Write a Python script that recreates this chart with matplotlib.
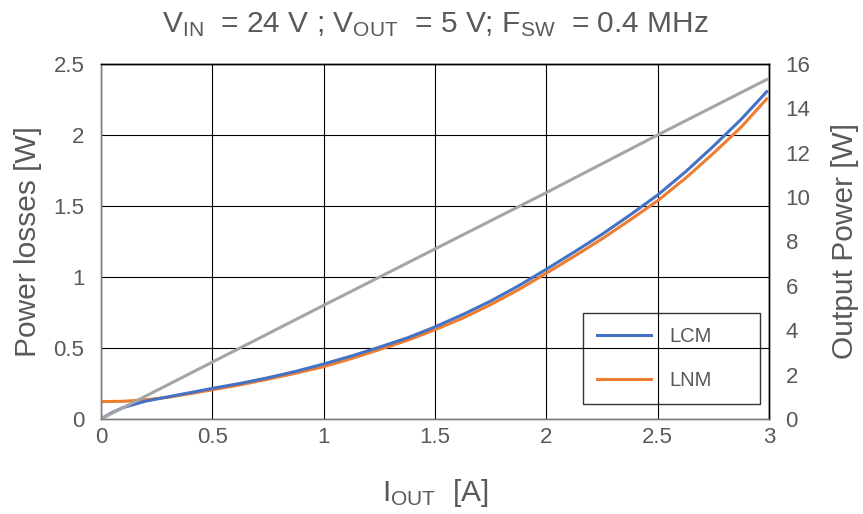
import matplotlib
matplotlib.use("Agg")
import matplotlib.pyplot as plt

plt.rcParams['font.family'] = ['Liberation Sans', 'DejaVu Sans']
plt.rcParams['mathtext.fontset'] = 'custom'
plt.rcParams['mathtext.rm'] = 'Liberation Sans'
plt.rcParams['mathtext.it'] = 'Liberation Sans'
plt.rcParams['mathtext.default'] = 'regular'

# output current [A]
i_out = [0, 0.05, 0.1, 0.2, 0.3, 0.4, 0.5, 0.625, 0.75, 0.875, 1.0, 1.125, 1.25, 1.375,
         1.5, 1.625, 1.75, 1.875, 2.0, 2.125, 2.25, 2.375, 2.5, 2.625, 2.75, 2.875, 2.99]
# power losses [W]
loss_lcm = [0.0, 0.045, 0.08, 0.125, 0.155, 0.185, 0.215, 0.25, 0.29, 0.335, 0.387, 0.443,
            0.505, 0.57, 0.648, 0.735, 0.83, 0.937, 1.054, 1.175, 1.30, 1.435, 1.577,
            1.74, 1.92, 2.11, 2.305]
loss_lnm = [0.122, 0.123, 0.124, 0.135, 0.152, 0.178, 0.205, 0.24, 0.28, 0.322, 0.368, 0.425,
            0.488, 0.553, 0.628, 0.71, 0.805, 0.91, 1.026, 1.145, 1.268, 1.40, 1.537,
            1.695, 1.87, 2.055, 2.254]
# output power [W]
p_out_i = [0, 0.5, 1.0, 1.5, 2.0, 2.5, 2.99]
p_out = [0, 2.56, 5.12, 7.66, 10.2, 12.8, 15.3]

txt = '#595959'

fig = plt.figure(figsize=(8.63, 5.14), dpi=100)
ax1 = fig.add_axes([0.117, 0.185, 0.774, 0.6905])
ax2 = ax1.twinx()

ax1.plot(i_out, loss_lnm, color='#ED7D31', lw=2.2, label='LNM', zorder=3)
ax1.plot(i_out, loss_lcm, color='#4472C4', lw=2.2, label='LCM', zorder=4)
ax2.plot(p_out_i, p_out, color='#A5A5A5', lw=2.2)

ax1.set_xlim(0, 3)
ax1.set_ylim(0, 2.5)
ax2.set_ylim(0, 16)
ax1.set_xticks([0, 0.5, 1, 1.5, 2, 2.5, 3])
ax1.set_xticklabels(['0', '0.5', '1', '1.5', '2', '2.5', '3'])
ax1.set_yticks([0, 0.5, 1, 1.5, 2, 2.5])
ax1.set_yticklabels(['0', '0.5', '1', '1.5', '2', '2.5'])
ax2.set_yticks(range(0, 17, 2))

ax1.grid(True, color='black', lw=0.8)
ax1.set_axisbelow(True)

for ax in (ax1, ax2):
    ax.tick_params(length=0, labelsize=16, colors=txt)
    ax.tick_params(axis='y', pad=12)
    ax.tick_params(axis='x', pad=6)
    for side in ('top', 'right'):
        ax.spines[side].set_color('black')
    for side in ('left', 'bottom'):
        ax.spines[side].set_color('#7F7F7F')
    for s in ax.spines.values():
        s.set_linewidth(1.0)

ax1.set_ylabel('Power losses [W]', fontsize=21.5, color=txt, labelpad=8)
ax2.set_ylabel('Output Power [W]', fontsize=21.5, color=txt, labelpad=15)
ax1.set_xlabel('$I_{OUT}$  [A]', fontsize=21.5, color=txt, labelpad=21)
ax1.set_title('$V_{IN}$  = 24 V ; $V_{OUT}$  = 5 V; $F_{SW}$  = 0.4 MHz',
              fontsize=21.5, color=txt, pad=23)

handles, labels = ax1.get_legend_handles_labels()
leg = ax1.legend(handles[::-1], labels[::-1], loc='lower left',
                 bbox_to_anchor=(0.7216, 0.042, 0.265, 0.254), mode='expand',
                 fontsize=14.5, frameon=True, fancybox=False,
                 borderpad=0.7, labelspacing=1.25,
                 handlelength=2.7, handletextpad=0.9, borderaxespad=0)
leg.get_frame().set_facecolor('none')
leg.get_frame().set_edgecolor('black')
leg.get_frame().set_linewidth(1.0)
for t in leg.get_texts():
    t.set_color(txt)

fig.savefig('out.png', dpi=100)
